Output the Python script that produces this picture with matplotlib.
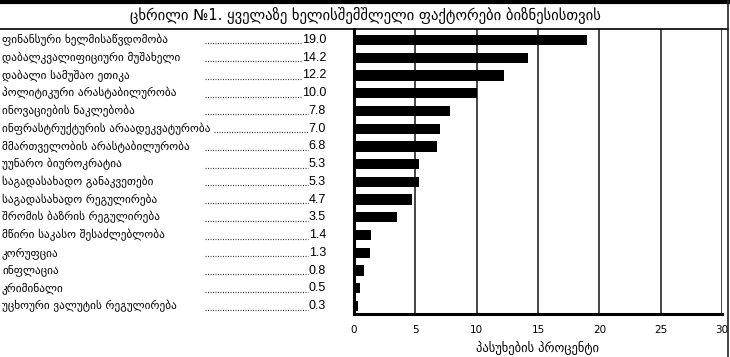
import matplotlib
matplotlib.use('Agg')
import matplotlib.pyplot as plt
from matplotlib.lines import Line2D

title = 'ცხრილი №1. ყველაზე ხელისშემშლელი ფაქტორები ბიზნესისთვის'
factors = [
    'ფინანსური ხელმისაწვდომობა',
    'დაბალკვალიფიციური მუშახელი',
    'დაბალი სამუშაო ეთიკა',
    'პოლიტიკური არასტაბილურობა',
    'ინოვაციების ნაკლებობა',
    'ინფრასტრუქტურის არაადეკვატურობა',
    'მმართველობის არასტაბილურობა',
    'უუნარო ბიუროკრატია',
    'საგადასახადო განაკვეთები',
    'საგადასახადო რეგულირება',
    'შრომის ბაზრის რეგულირება',
    'მწირი საკასო შესაძლებლობა',
    'კორუფცია',
    'ინფლაცია',
    'კრიმინალი',
    'უცხოური ვალუტის რეგულირება',
]
percent = [19.0, 14.2, 12.2, 10.0, 7.8, 7.0, 6.8, 5.3, 5.3, 4.7, 3.5, 1.4, 1.3, 0.8, 0.5, 0.3]
xticks = [0, 5, 10, 15, 20, 25, 30]
xlabel = 'პასუხების პროცენტი'

W, H = 730, 357
fig = plt.figure(figsize=(W / 100, H / 100), dpi=100)
fig.patch.set_facecolor('white')

# axes box in pixels
x0, x1, y_top, y_bot = 354, 722, 29, 314
ax = fig.add_axes([x0 / W, 1 - y_bot / H, (x1 - x0) / W, (y_bot - y_top) / H])

pos = list(range(len(factors)))
ax.barh(pos, percent, height=0.58, color='black', zorder=3)
ax.set_xlim(0, 30)
ax.set_ylim(15.45, -0.62)
ax.set_xticks(xticks)
ax.set_xticklabels([str(t) for t in xticks], fontsize=7.5)
ax.set_yticks([])
ax.tick_params(axis='x', length=0, pad=8)
ax.grid(axis='x', color='#444444', linewidth=1.4, zorder=1)
for s in ['top', 'right']:
    ax.spines[s].set_visible(False)
ax.spines['left'].set_linewidth(2.2)
ax.spines['bottom'].set_linewidth(2.2)
ax.spines['left'].set_zorder(4)
ax.set_xlabel(xlabel, fontsize=9, labelpad=4)

# labels and values on the left
names = []
vals = []
ys = []
for i, (name, val) in enumerate(zip(factors, percent)):
    ypix = y_top + (i + 0.62) * (y_bot - y_top) / 16.07
    yf = 1 - ypix / H
    ys.append(yf)
    names.append(fig.text(2 / W, yf, name, fontsize=8.1, va='center', ha='left'))
    vals.append(fig.text(326 / W, yf, '%.1f' % val, fontsize=9, va='center', ha='right',
                         color='black', family='Liberation Sans'))

# dotted leaders between label and value
fig.canvas.draw()
r = fig.canvas.get_renderer()
for n, t, yf in zip(names, vals, ys):
    xs = max(205, n.get_window_extent(r).x1 + 3)
    xe = t.get_window_extent(r).x0 - 1
    yl = yf - 3.5 / H
    fig.add_artist(Line2D([xs / W, xe / W], [yl, yl], color='#333333',
                          linewidth=0.9, linestyle=(0, (0.8, 1.2))))

# title and frame
fig.text(365 / W, 1 - 15 / H, title, fontsize=10.5, ha='center', va='center')
fig.add_artist(Line2D([0, 1], [1 - 1.5 / H, 1 - 1.5 / H], color='black', linewidth=3))
fig.add_artist(Line2D([0, 728 / W], [1 - 29 / H, 1 - 29 / H], color='black', linewidth=1.2))
fig.add_artist(Line2D([728 / W, 728 / W], [0, 1], color='#222222', linewidth=1.2))

fig.savefig('out.png', dpi=100)
